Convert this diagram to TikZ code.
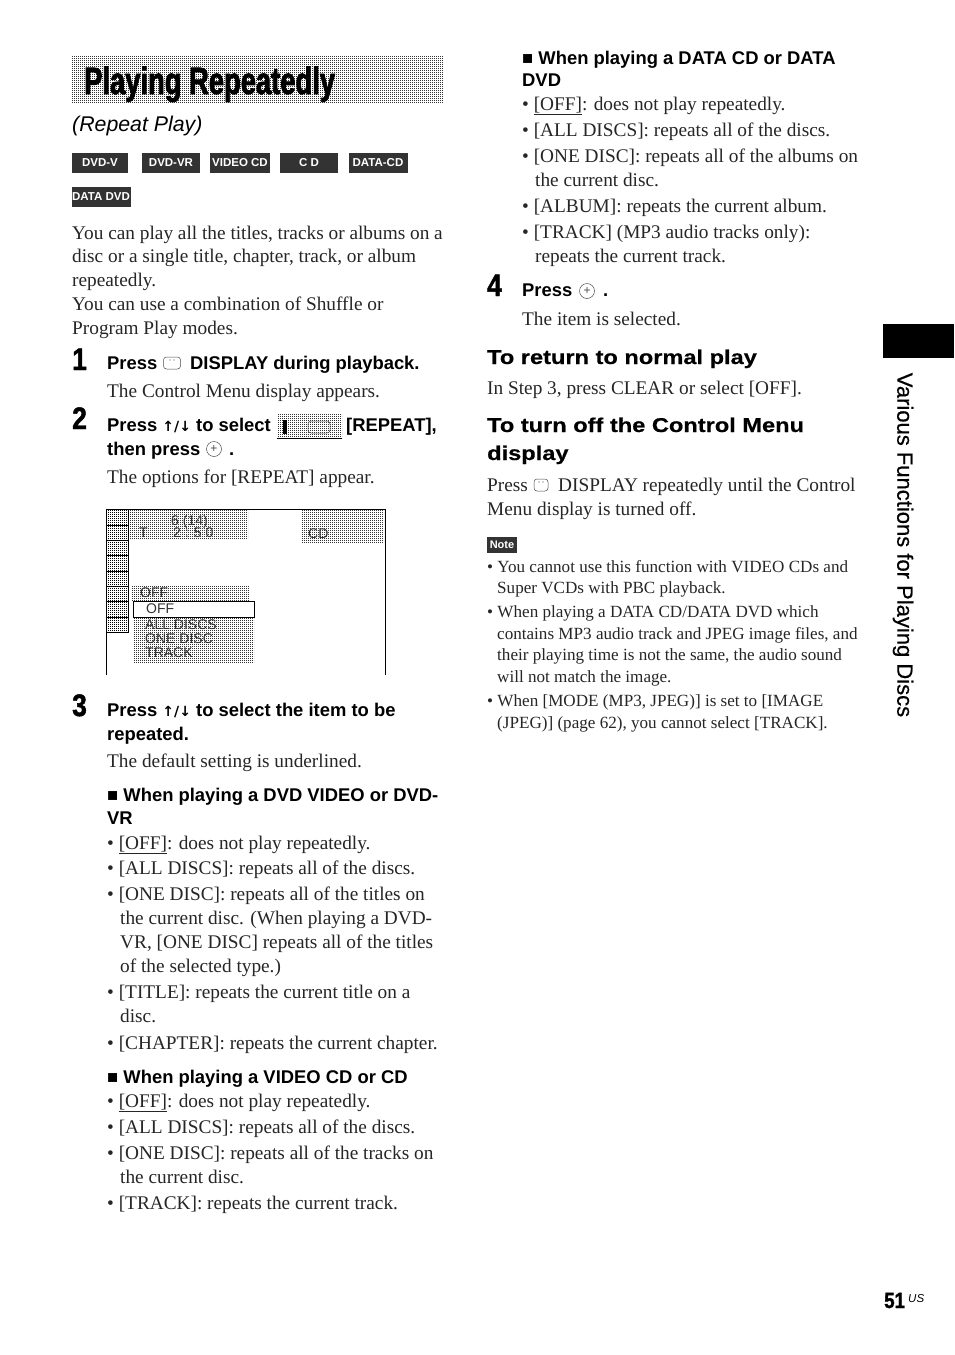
\documentclass[tikz,border=0pt]{standalone}
\usepackage{fontspec}
\usetikzlibrary{patterns}
\setmainfont{Liberation Serif}
\setsansfont{Liberation Sans}
\newfontfamily\titlefont[FakeStretch=0.72,FakeBold=2]{Liberation Sans Bold}
\newfontfamily\headfont[FakeStretch=1.18,FakeBold=0.4]{Liberation Sans Bold}
\newfontfamily\digitfont[FakeStretch=0.85,FakeBold=1.5]{Liberation Sans Bold}
\newfontfamily\tabfont[FakeBold=0.5]{Liberation Sans}
\newfontfamily\arrowfont{DejaVu Sans Bold}
\newcommand{\updown}{{\arrowfont\fontsize{14}{14}\selectfont ↑/↓}}
\pgfdeclarepatternformonly{halfdots}{\pgfqpoint{-.5pt}{-.5pt}}{\pgfqpoint{1.5pt}{1.5pt}}{\pgfqpoint{2pt}{2pt}}{
    \pgfpathrectangle{\pgfpointorigin}{\pgfqpoint{1pt}{1pt}}\pgfusepath{fill}
}
\definecolor{badgegray}{gray}{0.2}
\tikzset{
    bodytext/.style={anchor=base west, inner sep=0pt, font=\fontsize{19.3}{22}\selectfont, text=black!85},
    notetext/.style={anchor=base west, inner sep=0pt, font=\fontsize{17.1}{20}\selectfont, text=black!85},
    steptext/.style={anchor=base west, inner sep=0pt, font=\sffamily\bfseries\fontsize{18.4}{20}\selectfont},
    headtext/.style={anchor=base west, inner sep=0pt, font=\headfont\fontsize{20}{22}\selectfont},
    stepnum/.style={anchor=base west, inner sep=0pt, font=\digitfont\fontsize{31}{32}\selectfont},
    badge/.style={anchor=center, inner sep=0pt, fill=badgegray, text=white, minimum height=20pt, font=\sffamily\bfseries\fontsize{11.5}{14}\selectfont},
    osdtext/.style={anchor=west, inner sep=0pt, font=\sffamily\fontsize{14}{16}\selectfont, text=black!80},
    band/.style={pattern=halfdots, pattern color=black!80},
    dispicon/.style={draw=black!70, rounded corners=3pt, line width=.5pt, minimum width=17pt, minimum height=12pt, inner sep=0pt},
    enter/.style={circle, draw=black!70, line width=.5pt, minimum size=15pt, inner sep=0pt, font=\sffamily\fontsize{12}{12}\selectfont, text=black!70}
}
\begin{document}
\begin{tikzpicture}[x=1pt, y=-1pt]
    \useasboundingbox[fill=white] (0,0) rectangle (954,1355);
    % Title
    \fill[band] (71,55) rectangle (443,103);
    \node[anchor=base west, inner sep=0pt, font=\titlefont\fontsize{38}{40}\selectfont] (Title) at (84,94) {Playing Repeatedly};
    \node[anchor=base west, inner sep=0pt, font=\sffamily\itshape\fontsize{21.3}{24}\selectfont, text=black] (Subtitle) at (72,131) {(Repeat Play)};
    % Disc badges
    \foreach \name/\i/\cx/\bw/\cy in {DVD-V/1/100/56/163, DVD-VR/2/171/58/163, VIDEO CD/3/240/60/163, C D/4/309/58/163, DATA-CD/5/378/59/163, DATA DVD/6/101/59/197} {
        \node[badge, minimum width=\bw pt] (Badge-\i) at (\cx,\cy) {\name};
    }
    % Left column, intro
    \foreach \i/\cy/\txt in {1/239/{You can play all the titles, tracks or albums on a}, 2/262/{disc or a single title, chapter, track, or album}, 3/286/{repeatedly.}, 4/310/{You can use a combination of Shuffle or}, 5/334/{Program Play modes.}} {
        \node[bodytext] (Intro-\i) at (72,\cy) {\txt};
    }
    % Step numbers
    \foreach \name/\i/\cx/\cy in {1/1/72/370, 2/2/72/429, 3/3/72/716, 4/4/487/296} {
        \node[stepnum] (Num-\i) at (\cx,\cy) {\name};
    }
    % Step 1
    \node[steptext] (Step1-a) at (107,369) {Press};
    \node[dispicon] (Step1-icon) at (172,363) {};
    \fill[black!70] (170,360) circle (.7pt) (174,360) circle (.7pt);
    \node[steptext] (Step1-b) at (190,369) {DISPLAY during playback.};
    \node[bodytext] (Step1-c) at (107,397) {The Control Menu display appears.};
    % Step 2
    \node[steptext] (Step2-a) at (107,431) {Press \updown\ to select};
    \fill[band] (277,413) rectangle (342,438);
    \fill[black] (283,420) rectangle (287,434);
    \node[dispicon, minimum width=22pt] (Step2-icon) at (319,427) {};
    \draw[black, line width=.6pt] (277,438) -- (342,438);
    \node[steptext] (Step2-b) at (346,431) {[REPEAT],};
    \node[steptext] (Step2-c) at (107,455) {then press};
    \node[enter] (Step2-enter) at (214,449) {+};
    \node[steptext] (Step2-d) at (229,455) {.};
    \node[bodytext] (Step2-e) at (107,483) {The options for [REPEAT] appear.};
    % Screen picture
    \draw[black, line width=1pt] (106,675) -- (106,509) -- (385,509) -- (385,675);
    \foreach \i/\ya/\yb in {1/509/525, 2/525/540, 3/540/555, 4/555/571, 5/571/586, 6/586/601, 7/601/617, 8/617/632} {
        \draw[pattern=halfdots, pattern color=black, draw=black, line width=.5pt] (106,\ya) rectangle (128,\yb);
    }
    \fill[band] (130,510) rectangle (248,538);
    \fill[band] (301,510) rectangle (384,543);
    \fill[band] (132,586) rectangle (249,601);
    \fill[band] (134,617) rectangle (254,662);
    \draw[fill=white, draw=black, line width=1pt] (133,601) rectangle (254,617);
    \foreach \name/\i/\cx/\cy in {6 (14)/1/171/522, T/2/139/533, 2 : 5 0/3/173/533, CD/4/308/534, OFF/5/140/593, OFF/6/146/609, ALL DISCS/7/145/625, ONE DISC/8/145/639, TRACK/9/145/653} {
        \node[osdtext] (Osd-\i) at (\cx,\cy) {\name};
    }
    % Step 3
    \node[steptext] (Step3-a) at (107,716) {Press \updown\ to select the item to be};
    \node[steptext] (Step3-b) at (107,740) {repeated.};
    \node[bodytext] (Step3-c) at (107,767) {The default setting is underlined.};
    % DVD list
    \node[steptext] (Dvd-head-1) at (107,801) {■ When playing a DVD VIDEO or DVD-};
    \node[steptext] (Dvd-head-2) at (107,824) {VR};
    \foreach \i/\cx/\cy/\txt in {1/107/849/{• \underline{[OFF]}: does not play repeatedly.}, 2/107/874/{• [ALL DISCS]: repeats all of the discs.}, 3/107/900/{• [ONE DISC]: repeats all of the titles on}, 4/120/924/{the current disc. (When playing a DVD-}, 5/120/948/{VR, [ONE DISC] repeats all of the titles}, 6/120/972/{of the selected type.)}, 7/107/998/{• [TITLE]: repeats the current title on a}, 8/120/1022/{disc.}, 9/107/1049/{• [CHAPTER]: repeats the current chapter.}} {
        \node[bodytext] (Dvd-\i) at (\cx,\cy) {\txt};
    }
    % Video CD list
    \node[steptext] (Vcd-head) at (107,1083) {■ When playing a VIDEO CD or CD};
    \foreach \i/\cx/\cy/\txt in {1/107/1107/{• \underline{[OFF]}: does not play repeatedly.}, 2/107/1133/{• [ALL DISCS]: repeats all of the discs.}, 3/107/1159/{• [ONE DISC]: repeats all of the tracks on}, 4/120/1183/{the current disc.}, 5/107/1209/{• [TRACK]: repeats the current track.}} {
        \node[bodytext] (Vcd-\i) at (\cx,\cy) {\txt};
    }
    % Right column, data list
    \node[steptext] (Data-head-1) at (522,64) {■ When playing a DATA CD or DATA};
    \node[steptext] (Data-head-2) at (522,86) {DVD};
    \foreach \i/\cx/\cy/\txt in {1/522/110/{• \underline{[OFF]}: does not play repeatedly.}, 2/522/136/{• [ALL DISCS]: repeats all of the discs.}, 3/522/162/{• [ONE DISC]: repeats all of the albums on}, 4/535/186/{the current disc.}, 5/522/212/{• [ALBUM]: repeats the current album.}, 6/522/238/{• [TRACK] (MP3 audio tracks only):}, 7/535/262/{repeats the current track.}} {
        \node[bodytext] (Data-\i) at (\cx,\cy) {\txt};
    }
    % Step 4
    \node[steptext] (Step4-a) at (522,296) {Press};
    \node[enter] (Step4-enter) at (587,291) {+};
    \node[steptext] (Step4-b) at (603,296) {.};
    \node[bodytext] (Step4-c) at (522,325) {The item is selected.};
    % Return and turn off
    \node[headtext] (Return-head) at (487,364) {To return to normal play};
    \node[bodytext] (Return-text) at (487,394) {In Step 3, press CLEAR or select [OFF].};
    \node[headtext] (Off-head-1) at (487,432) {To turn off the Control Menu};
    \node[headtext] (Off-head-2) at (487,460) {display};
    \node[bodytext] (Off-a) at (487,491) {Press};
    \node[dispicon, minimum width=14pt] (Off-icon) at (541,485) {};
    \fill[black!70] (539,482) circle (.6pt) (543,482) circle (.6pt);
    \node[bodytext] (Off-b) at (558,491) {DISPLAY repeatedly until the Control};
    \node[bodytext] (Off-c) at (487,515) {Menu display is turned off.};
    % Note
    \node[badge, minimum width=30pt, minimum height=16pt, font=\sffamily\bfseries\fontsize{11}{14}\selectfont] (Note) at (502,545) {Note};
    \foreach \i/\cx/\cy/\txt in {1/487/572/{• You cannot use this function with VIDEO CDs and}, 2/497/593/{Super VCDs with PBC playback.}, 3/487/617/{• When playing a DATA CD/DATA DVD which}, 4/497/639/{contains MP3 audio track and JPEG image files, and}, 5/497/660/{their playing time is not the same, the audio sound}, 6/497/682/{will not match the image.}, 7/487/706/{• When [MODE (MP3, JPEG)] is set to [IMAGE}, 8/497/728/{(JPEG)] (page 62), you cannot select [TRACK].}} {
        \node[notetext] (Notes-\i) at (\cx,\cy) {\txt};
    }
    % Side tab
    \fill[black] (883,324) rectangle (954,358);
    \node[rotate=-90, inner sep=0pt, font=\tabfont\fontsize{22}{24}\selectfont] (Tab) at (903,545) {Various Functions for Playing Discs};
    % Page number
    \node[anchor=base west, inner sep=0pt, font=\digitfont\fontsize{22}{24}\selectfont] (Page) at (884,1308) {51};
    \node[anchor=base west, inner sep=0pt, font=\sffamily\itshape\fontsize{11.5}{12}\selectfont] (Page-us) at (908,1302) {US};
\end{tikzpicture}
\end{document}
